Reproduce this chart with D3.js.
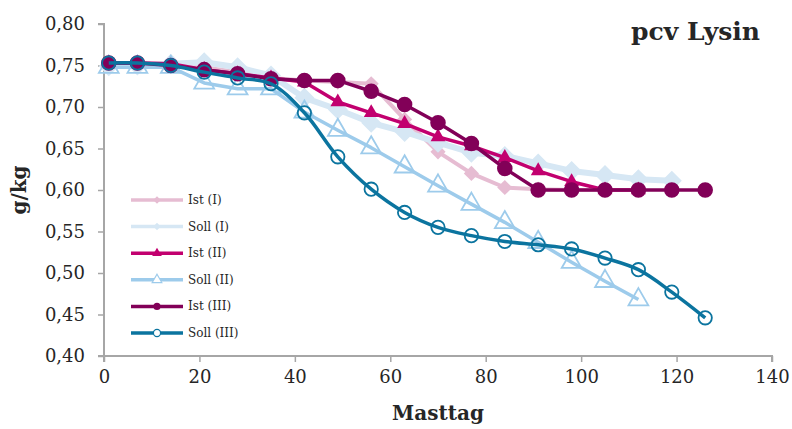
<!DOCTYPE html>
<html lang="de">
<head>
<meta charset="UTF-8">
<title>pcv Lysin</title>
<script src="https://cdn.jsdelivr.net/npm/d3@7"></script>
<style>
    body { margin: 0; background: #fff; }
    text { font-family: "DejaVu Serif", serif; fill: #262626; }
    .tick text { font-size: 18px; }
    .legend_text { font-size: 12px; }
</style>
</head>
<body>
<svg width="792" height="429"></svg>
<script>
    // days of fattening
    const days = [1, 7, 14, 21, 28, 35, 42, 49, 56, 63, 70, 77, 84, 91, 98, 105, 112, 119, 126];

    const istI   = [0.753, 0.753, 0.752, 0.748, 0.742, 0.735, 0.732, 0.730, 0.728, 0.685, 0.646, 0.620, 0.603, 0.601, 0.600, 0.600];
    const sollI  = [0.749, 0.750, 0.752, 0.754, 0.748, 0.738, 0.711, 0.697, 0.681, 0.670, 0.657, 0.645, 0.641, 0.632, 0.623, 0.618, 0.613, 0.611];
    const istII  = [0.753, 0.753, 0.752, 0.745, 0.740, 0.735, 0.730, 0.706, 0.693, 0.680, 0.664, 0.653, 0.639, 0.623, 0.610, 0.600, 0.600];
    const sollII = [0.748, 0.748, 0.748, 0.729, 0.722, 0.722, 0.694, 0.672, 0.651, 0.628, 0.605, 0.583, 0.561, 0.537, 0.513, 0.490, 0.468];
    const istIII = [0.753, 0.753, 0.750, 0.745, 0.740, 0.734, 0.732, 0.732, 0.719, 0.703, 0.681, 0.656, 0.626, 0.600, 0.600, 0.600, 0.600, 0.600, 0.600];
    const sollIII = [0.753, 0.753, 0.750, 0.742, 0.735, 0.728, 0.693, 0.640, 0.601, 0.573, 0.555, 0.545, 0.538, 0.534, 0.529, 0.518, 0.504, 0.477, 0.446];

    const seriesNames = ["Ist (I)", "Soll (I)", "Ist (II)", "Soll (II)", "Ist (III)", "Soll (III)"];
    const xTicks = [0, 20, 40, 60, 80, 100, 120, 140];
    const yTicks = [0.40, 0.45, 0.50, 0.55, 0.60, 0.65, 0.70, 0.75, 0.80];

    const series = [
        { name: seriesNames[0], values: istI,    color: "#e6bcd2", width: 4, marker: "diamond", size: 115, fill: true },
        { name: seriesNames[1], values: sollI,   color: "#d6e7f4", width: 6, marker: "diamond", size: 200, fill: true },
        { name: seriesNames[2], values: istII,   color: "#c2006f", width: 3.5, marker: "triangle", size: 95, fill: true },
        { name: seriesNames[3], values: sollII,  color: "#9dcbeb", width: 3.5, marker: "triangle", size: 170, fill: false },
        { name: seriesNames[4], values: istIII,  color: "#820058", width: 3.5, marker: "circle", size: 190, fill: true },
        { name: seriesNames[5], values: sollIII, color: "#0b749f", width: 3.5, marker: "circle", size: 140, fill: false, smooth: true }
    ];

    const svg = d3.select("svg");

    const x = d3.scaleLinear().domain([0, 140]).range([104, 772]);
    const y = d3.scaleLinear().domain([0.40, 0.80]).range([356, 24]);

    const fmt = d => d3.format(".2f")(d).replace(".", ",");

    // axes
    const xAxis = svg.append("g")
        .attr("transform", "translate(0,356)")
        .call(d3.axisBottom(x).tickValues(xTicks).tickSize(6).tickPadding(8));
    const yAxis = svg.append("g")
        .attr("transform", "translate(104,0)")
        .call(d3.axisLeft(y).tickValues(yTicks).tickFormat(fmt).tickSize(6).tickPadding(13));

    [xAxis, yAxis].forEach(a => {
        a.select(".domain").attr("stroke", "#a6a6a6").attr("stroke-width", 2);
        a.selectAll(".tick line").attr("stroke", "#a6a6a6").attr("stroke-width", 1.5);
        a.selectAll(".tick text").attr("fill", "#262626");
    });
    xAxis.select(".domain").attr("d", "M104,6V0H772V6");
    yAxis.select(".domain").attr("d", "M-6,24H0V356H-6");

    function symbolType(s) {
        if (s.marker === "diamond") return d3.symbolSquare;
        if (s.marker === "triangle") return d3.symbolTriangle;
        return d3.symbolCircle;
    }
    // diamonds are squares turned by 45 degrees
    const turn = s => s.marker === "diamond" ? " rotate(45)" : "";

    // lines + markers
    series.forEach(s => {
        const pts = s.values.map((v, i) => [days[i], v]);
        const line = d3.line()
            .x(d => x(d[0]))
            .y(d => y(d[1]))
            .curve(s.smooth ? d3.curveCatmullRom.alpha(0.5) : d3.curveLinear);

        const g = svg.append("g");
        g.append("path")
            .attr("d", line(pts))
            .attr("fill", "none")
            .attr("stroke", s.color)
            .attr("stroke-width", s.width)
            .attr("stroke-linejoin", "round");

        g.selectAll("path.m")
            .data(pts)
            .enter()
            .append("path")
            .attr("class", "m")
            .attr("d", d3.symbol(symbolType(s), s.size))
            .attr("transform", d => `translate(${x(d[0])},${y(d[1])})` + turn(s))
            .attr("fill", s.fill ? s.color : "none")
            .attr("stroke", s.color)
            .attr("stroke-width", s.fill ? 0 : 1.8);
    });

    // legend
    const legend = svg.append("g").attr("transform", "translate(131,200)");
    series.forEach((s, i) => {
        const row = legend.append("g").attr("transform", `translate(0,${i * 26.6})`);
        row.append("line")
            .attr("x1", 0).attr("x2", 52)
            .attr("stroke", s.color)
            .attr("stroke-width", 3.5);
        row.append("path")
            .attr("d", d3.symbol(symbolType(s), s.marker === "diamond" ? 28 : 40))
            .attr("transform", "translate(26,0)" + turn(s))
            .attr("fill", s.fill ? s.color : "#fff")
            .attr("stroke", s.color)
            .attr("stroke-width", s.fill ? 0 : 1.2);
        row.append("text")
            .attr("class", "legend_text")
            .attr("x", 57)
            .attr("y", 4)
            .text(s.name);
    });

    // titles
    svg.append("text")
        .attr("x", 760)
        .attr("y", 40)
        .attr("text-anchor", "end")
        .attr("font-size", 25)
        .attr("font-weight", "bold")
        .text("pcv Lysin");

    svg.append("text")
        .attr("x", 438)
        .attr("y", 420)
        .attr("text-anchor", "middle")
        .attr("font-size", 20)
        .attr("font-weight", "bold")
        .text("Masttag");

    svg.append("text")
        .attr("transform", "translate(26,190) rotate(-90)")
        .attr("text-anchor", "middle")
        .attr("font-size", 20)
        .attr("font-weight", "bold")
        .text("g/kg");
</script>
</body>
</html>
